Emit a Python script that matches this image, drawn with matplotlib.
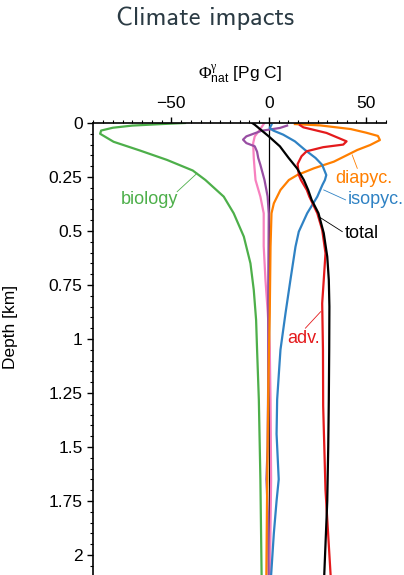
import matplotlib
matplotlib.use("Agg")
import matplotlib.pyplot as plt
from matplotlib.ticker import MultipleLocator

plt.rcParams["font.family"] = ["Liberation Sans", "DejaVu Sans"]
plt.rcParams["mathtext.fontset"] = "custom"
plt.rcParams["mathtext.rm"] = "Liberation Serif"
plt.rcParams["mathtext.it"] = "Liberation Serif:italic"
plt.rcParams["mathtext.sf"] = "Liberation Sans"

# depth [km] / Phi [Pg C] per component
biology_d = [0, 0.005, 0.012, 0.022, 0.035, 0.05, 0.087, 0.128, 0.171, 0.22, 0.264, 0.341, 0.418, 0.526, 0.65,
             0.773, 0.912, 1.05, 1.28, 1.65, 2.15]
biology_x = [-43, -55, -70, -80, -86, -86.5, -79.6, -65.9, -52.2, -39, -32.5, -23.1, -18, -12.8, -9.4,
             -7.7, -6.5, -6, -5.1, -4.3, -3.6]

total_d = [0, 0.008, 0.062, 0.108, 0.162, 0.21, 0.264, 0.31, 0.356, 0.418, 0.51, 0.619, 0.727, 0.85, 1.05,
           1.28, 1.5, 1.75, 2.15]
total_x = [-8.5, -7.2, 0, 5.7, 10.2, 14.5, 18, 20.2, 22, 25.5, 28.2, 30, 30.8, 31.1, 31,
           30.8, 30.5, 30, 28.2]

adv_d = [0.01, 0.02, 0.046, 0.085, 0.1, 0.112, 0.131, 0.154, 0.19, 0.24, 0.264, 0.31, 0.341, 0.418, 0.495,
         0.603, 0.727, 0.835, 1.05, 1.31, 1.70, 2.15]
adv_x = [16, 17.7, 29.6, 39.9, 38.2, 27.9, 19.4, 16.8, 14.8, 15.4, 16.5, 19.5, 20.8, 24.9, 27.4,
         29.1, 28.2, 27.4, 27.8, 27.9, 29.1, 32.1]

diapyc_d = [0.005, 0.011, 0.028, 0.045, 0.06, 0.079, 0.102, 0.125, 0.148, 0.179, 0.21, 0.241, 0.264, 0.31,
            0.372, 0.418, 0.573, 0.88, 1.2, 1.65, 2.15]
diapyc_x = [13.4, 26.2, 42, 50, 56, 57, 52, 45.4, 40.3, 33.4, 23.1, 14.6, 10.3, 6,
            2.6, 1.4, 0.9, 0.5, -0.2, -0.8, -1.3]

isopyc_d = [0.008, 0.023, 0.035, 0.054, 0.085, 0.124, 0.162, 0.194, 0.241, 0.264, 0.287, 0.341, 0.418, 0.503,
            0.573, 0.727, 0.88, 1.05, 1.13, 1.28, 1.44, 1.65, 1.75, 1.90, 2.15]
isopyc_x = [1.4, 0.5, 2.3, 7.4, 13.4, 18.5, 24, 27.4, 29.5, 28.8, 27.5, 24.9, 19.7, 15.4,
            13.7, 11.1, 8.6, 6, 5.4, 4.3, 4.0, 5.1, 4.0, 2.6, 0.8]

purple_d = [0.012, 0.023, 0.036, 0.062, 0.077, 0.093, 0.108, 0.133, 0.162, 0.194, 0.264, 0.34, 0.42, 0.8,
            1.2, 1.5, 1.65, 1.8, 2.15]
purple_x = [9.4, 5.7, -3.7, -11.5, -13.2, -11.5, -7.2, -6, -5.4, -4.3, -2.2, -0.6, 0, -0.3,
            -0.3, -0.6, -1.2, -0.5, 0]

pink_d = [0.005, 0.031, 0.062, 0.093, 0.162, 0.21, 0.264, 0.341, 0.418, 0.57, 0.727, 0.88, 1.04, 1.28,
          1.65, 2.15]
pink_x = [-2.6, -4.6, -7.2, -8, -7.7, -7.3, -6.8, -4.3, -2.6, -2.6, -1.7, -0.5, 0.5, 0.9,
          1.2, 0.5]

ytick_vals = [0, 0.25, 0.5, 0.75, 1, 1.25, 1.5, 1.75, 2]
ytick_labels = ["0", "0.25", "0.5", "0.75", "1", "1.25", "1.5", "1.75", "2"]
xtick_vals = [-50, 0, 50]

GREEN = "#4daf4a"
ORANGE = "#ff7f00"
BLUE = "#2f82c4"
RED = "#e41a1c"
PURPLE = "#984ea3"
PINK = "#f781bf"

fig = plt.figure(figsize=(4.04, 5.75), dpi=100)
ax = fig.add_axes([0.231, 0.0, 0.7238, 0.7861])

ax.axvline(0, color="black", lw=0.9, zorder=1)
lw = 1.6
ax.plot(biology_x, biology_d, color=GREEN, lw=lw)
ax.plot(pink_x, pink_d, color=PINK, lw=lw)
ax.plot(purple_x, purple_d, color=PURPLE, lw=lw)
ax.plot(diapyc_x, diapyc_d, color=ORANGE, lw=lw)
ax.plot(isopyc_x, isopyc_d, color=BLUE, lw=lw)
ax.plot(adv_x, adv_d, color=RED, lw=lw)
ax.plot(total_x, total_d, color="black", lw=lw)

# labels with leader lines
lab = dict(fontsize=13, ha="center", va="center")
ax.text(-61.3, 0.356, "biology", color=GREEN, **lab)
ax.plot([-47.0, -36.8], [0.318, 0.233], color=GREEN, lw=0.6)
ax.text(48.6, 0.255, "diapyc.", color=ORANGE, **lab)
ax.plot([42.8, 45.4], [0.148, 0.21], color=ORANGE, lw=0.6)
ax.text(54.8, 0.356, "isopyc.", color=BLUE, **lab)
ax.plot([28.2, 39.4], [0.31, 0.356], color=BLUE, lw=0.6)
ax.text(47.6, 0.514, "total", color="black", **lab)
ax.plot([25.7, 37.7], [0.434, 0.503], color="black", lw=0.6)
ax.text(17.6, 1.0, "adv.", color=RED, **lab)
ax.plot([26.6, 18.8], [0.874, 0.95], color=RED, lw=0.6)

ax.set_xlim(-90, 60)
ax.set_ylim(2.093, 0)
for s in ["right", "bottom"]:
    ax.spines[s].set_visible(False)
for s in ["left", "top"]:
    ax.spines[s].set_linewidth(1.2)

ax.xaxis.tick_top()
ax.xaxis.set_label_position("top")
ax.set_xticks(xtick_vals)
ax.xaxis.set_minor_locator(MultipleLocator(5))
ax.set_yticks(ytick_vals)
ax.set_yticklabels(ytick_labels)
ax.yaxis.set_minor_locator(MultipleLocator(0.05))
ax.tick_params(which="major", direction="out", length=4.2, width=1.0, labelsize=12.5)
ax.tick_params(which="minor", direction="out", length=2.4, width=0.8)
ax.tick_params(axis="x", pad=4.5)
ax.tick_params(axis="y", pad=3.5)

ax.set_xlabel(r"$\Phi^{\mathrm{\gamma}}_{\mathsf{nat}}$ [Pg C]", fontsize=12.5, labelpad=12)
ax.set_ylabel("Depth [km]", fontsize=12.5)
ax.yaxis.set_label_coords(-0.257, 0.549)

fig.text(0.508, 0.968, "Climate impacts", fontsize=19, family="cmss10",
         color="#2b3b44", ha="center", va="center")

fig.savefig("out.png", dpi=100)
